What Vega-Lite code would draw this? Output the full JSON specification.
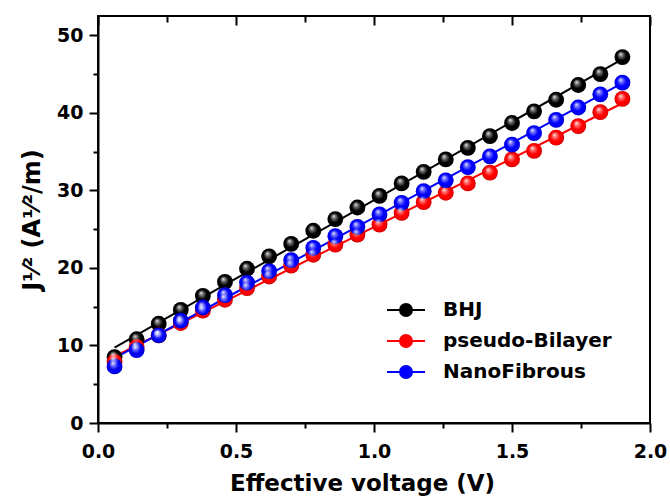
{
  "$schema": "https://vega.github.io/schema/vega-lite/v6.json",
  "autosize": {"type": "none"},
  "width": 552,
  "height": 407,
  "padding": {"left": 98, "top": 16, "right": 20, "bottom": 74},
  "background": "white",
  "config": {
    "view": {"stroke": "black", "strokeWidth": 2},
    "axis": {
      "labelFont": "DejaVu Sans", "labelFontWeight": "bold", "labelFontSize": 19, "labelColor": "black",
      "titleFont": "DejaVu Sans", "titleFontWeight": "bold", "titleColor": "black",
      "domainColor": "black", "domainWidth": 2, "tickColor": "black", "tickWidth": 2, "grid": false,
      "labelFlush": false
    },
    "legend": {
      "labelFont": "DejaVu Sans", "labelFontWeight": "bold", "labelFontSize": 20, "labelColor": "black", "labelLimit": 400
    }
  },
  "data": {
    "values": [
      {"s": "BHJ", "v": 0.06, "j": 8.5}, {"s": "BHJ", "v": 0.14, "j": 10.8}, {"s": "BHJ", "v": 0.22, "j": 12.8},
      {"s": "BHJ", "v": 0.30, "j": 14.6}, {"s": "BHJ", "v": 0.38, "j": 16.4}, {"s": "BHJ", "v": 0.46, "j": 18.2},
      {"s": "BHJ", "v": 0.54, "j": 19.9}, {"s": "BHJ", "v": 0.62, "j": 21.5}, {"s": "BHJ", "v": 0.70, "j": 23.1},
      {"s": "BHJ", "v": 0.78, "j": 24.8}, {"s": "BHJ", "v": 0.86, "j": 26.3}, {"s": "BHJ", "v": 0.94, "j": 27.8},
      {"s": "BHJ", "v": 1.02, "j": 29.3}, {"s": "BHJ", "v": 1.10, "j": 30.9}, {"s": "BHJ", "v": 1.18, "j": 32.4},
      {"s": "BHJ", "v": 1.26, "j": 34.0}, {"s": "BHJ", "v": 1.34, "j": 35.5}, {"s": "BHJ", "v": 1.42, "j": 37.0},
      {"s": "BHJ", "v": 1.50, "j": 38.7}, {"s": "BHJ", "v": 1.58, "j": 40.2}, {"s": "BHJ", "v": 1.66, "j": 41.7},
      {"s": "BHJ", "v": 1.74, "j": 43.6}, {"s": "BHJ", "v": 1.82, "j": 45.0}, {"s": "BHJ", "v": 1.90, "j": 47.2},
      {"s": "pseudo-Bilayer", "v": 0.06, "j": 7.9}, {"s": "pseudo-Bilayer", "v": 0.14, "j": 9.8}, {"s": "pseudo-Bilayer", "v": 0.22, "j": 11.3},
      {"s": "pseudo-Bilayer", "v": 0.30, "j": 12.9}, {"s": "pseudo-Bilayer", "v": 0.38, "j": 14.5}, {"s": "pseudo-Bilayer", "v": 0.46, "j": 15.9},
      {"s": "pseudo-Bilayer", "v": 0.54, "j": 17.4}, {"s": "pseudo-Bilayer", "v": 0.62, "j": 18.9}, {"s": "pseudo-Bilayer", "v": 0.70, "j": 20.3},
      {"s": "pseudo-Bilayer", "v": 0.78, "j": 21.7}, {"s": "pseudo-Bilayer", "v": 0.86, "j": 23.0}, {"s": "pseudo-Bilayer", "v": 0.94, "j": 24.3},
      {"s": "pseudo-Bilayer", "v": 1.02, "j": 25.6}, {"s": "pseudo-Bilayer", "v": 1.10, "j": 27.1}, {"s": "pseudo-Bilayer", "v": 1.18, "j": 28.5},
      {"s": "pseudo-Bilayer", "v": 1.26, "j": 29.7}, {"s": "pseudo-Bilayer", "v": 1.34, "j": 30.9}, {"s": "pseudo-Bilayer", "v": 1.42, "j": 32.3},
      {"s": "pseudo-Bilayer", "v": 1.50, "j": 34.0}, {"s": "pseudo-Bilayer", "v": 1.58, "j": 35.1}, {"s": "pseudo-Bilayer", "v": 1.66, "j": 36.8},
      {"s": "pseudo-Bilayer", "v": 1.74, "j": 38.3}, {"s": "pseudo-Bilayer", "v": 1.82, "j": 40.1}, {"s": "pseudo-Bilayer", "v": 1.90, "j": 41.8},
      {"s": "NanoFibrous", "v": 0.06, "j": 7.3}, {"s": "NanoFibrous", "v": 0.14, "j": 9.4}, {"s": "NanoFibrous", "v": 0.22, "j": 11.3},
      {"s": "NanoFibrous", "v": 0.30, "j": 13.2}, {"s": "NanoFibrous", "v": 0.38, "j": 14.9}, {"s": "NanoFibrous", "v": 0.46, "j": 16.5},
      {"s": "NanoFibrous", "v": 0.54, "j": 18.1}, {"s": "NanoFibrous", "v": 0.62, "j": 19.6}, {"s": "NanoFibrous", "v": 0.70, "j": 21.0},
      {"s": "NanoFibrous", "v": 0.78, "j": 22.6}, {"s": "NanoFibrous", "v": 0.86, "j": 24.1}, {"s": "NanoFibrous", "v": 0.94, "j": 25.3},
      {"s": "NanoFibrous", "v": 1.02, "j": 26.9}, {"s": "NanoFibrous", "v": 1.10, "j": 28.4}, {"s": "NanoFibrous", "v": 1.18, "j": 29.9},
      {"s": "NanoFibrous", "v": 1.26, "j": 31.3}, {"s": "NanoFibrous", "v": 1.34, "j": 33.0}, {"s": "NanoFibrous", "v": 1.42, "j": 34.4},
      {"s": "NanoFibrous", "v": 1.50, "j": 35.9}, {"s": "NanoFibrous", "v": 1.58, "j": 37.4}, {"s": "NanoFibrous", "v": 1.66, "j": 39.1},
      {"s": "NanoFibrous", "v": 1.74, "j": 40.7}, {"s": "NanoFibrous", "v": 1.82, "j": 42.4}, {"s": "NanoFibrous", "v": 1.90, "j": 43.9}
    ]
  },
  "encoding": {
    "x": {
      "field": "v", "type": "quantitative",
      "scale": {"domain": [0, 2], "nice": false, "zero": false},
      "axis": {
        "orient": "bottom",
        "values": [0, 0.25, 0.5, 0.75, 1, 1.25, 1.5, 1.75, 2],
        "format": ".1f",
        "labelExpr": "datum.value % 0.5 == 0 ? datum.label : ''",
        "tickSize": {"condition": {"test": "datum.value % 0.5 == 0", "value": 9}, "value": 5},
        "labelPadding": 10,
        "title": "Effective voltage (V)",
        "titleFontSize": 23,
        "titlePadding": 11,
        "titleX": 264,
        "grid": true,
        "gridColor": "black",
        "gridWidth": 2,
        "gridOpacity": 1,
        "gridDash": {"condition": {"test": "datum.value % 0.5 == 0", "value": [9, 398]}, "value": [6, 401]},
        "gridDashOffset": 0
      }
    },
    "y": {
      "field": "j", "type": "quantitative",
      "scale": {"domain": [0, 52.5], "nice": false, "zero": false},
      "axis": {
        "values": [0, 5, 10, 15, 20, 25, 30, 35, 40, 45, 50],
        "labelExpr": "datum.value % 10 == 0 ? datum.label : ''",
        "tickSize": {"condition": {"test": "datum.value % 10 == 0", "value": 9}, "value": 5},
        "labelPadding": 6,
        "title": "J¹⁄² (A¹⁄²/m)",
        "titleFontSize": 24,
        "titlePadding": 12
      }
    },
    "color": {
      "field": "s", "type": "nominal",
      "scale": {"domain": ["BHJ", "pseudo-Bilayer", "NanoFibrous"], "range": ["#000000", "#ff0000", "#0000ff"]},
      "legend": {
        "title": null,
        "orient": "none",
        "legendX": 297,
        "legendY": 283,
        "symbolType": "M-1.9,0H1.9M-0.6,0A0.6,0.6 0 1,0 0.6,0A0.6,0.6 0 1,0 -0.6,0Z",
        "symbolSize": 400,
        "symbolStrokeWidth": 2,
        "labelOffset": 26,
        "rowPadding": 10,
        "padding": 0,
        "encode": {
          "symbols": {
            "update": {
              "stroke": {"scale": "color", "field": "value"},
              "fill": {"scale": "color", "field": "value"},
              "strokeWidth": {"value": 2},
              "opacity": {"value": 1}
            }
          }
        }
      }
    }
  },
  "layer": [
    {
      "transform": [{"regression": "j", "on": "v", "groupby": ["s"]}],
      "mark": {"type": "line", "strokeWidth": 2}
    },
    {
      "mark": {"type": "point", "filled": true, "size": 250, "opacity": 1, "shape": "circle"}
    },
    {
      "mark": {
        "type": "point", "filled": true, "size": 250, "shape": "circle", "opacity": 1, "strokeWidth": 0,
        "fill": {
          "gradient": "radial", "x1": 0.38, "y1": 0.3, "r1": 0, "x2": 0.5, "y2": 0.5, "r2": 0.5,
          "stops": [
            {"offset": 0, "color": "rgba(255,255,255,0.95)"},
            {"offset": 0.25, "color": "rgba(255,255,255,0.45)"},
            {"offset": 0.6, "color": "rgba(255,255,255,0)"},
            {"offset": 0.85, "color": "rgba(0,0,0,0)"},
            {"offset": 1, "color": "rgba(0,0,0,0.25)"}
          ]
        }
      },
      "encoding": {
        "color": {"value": null},
        "detail": {"field": "s"}
      }
    }
  ]
}
